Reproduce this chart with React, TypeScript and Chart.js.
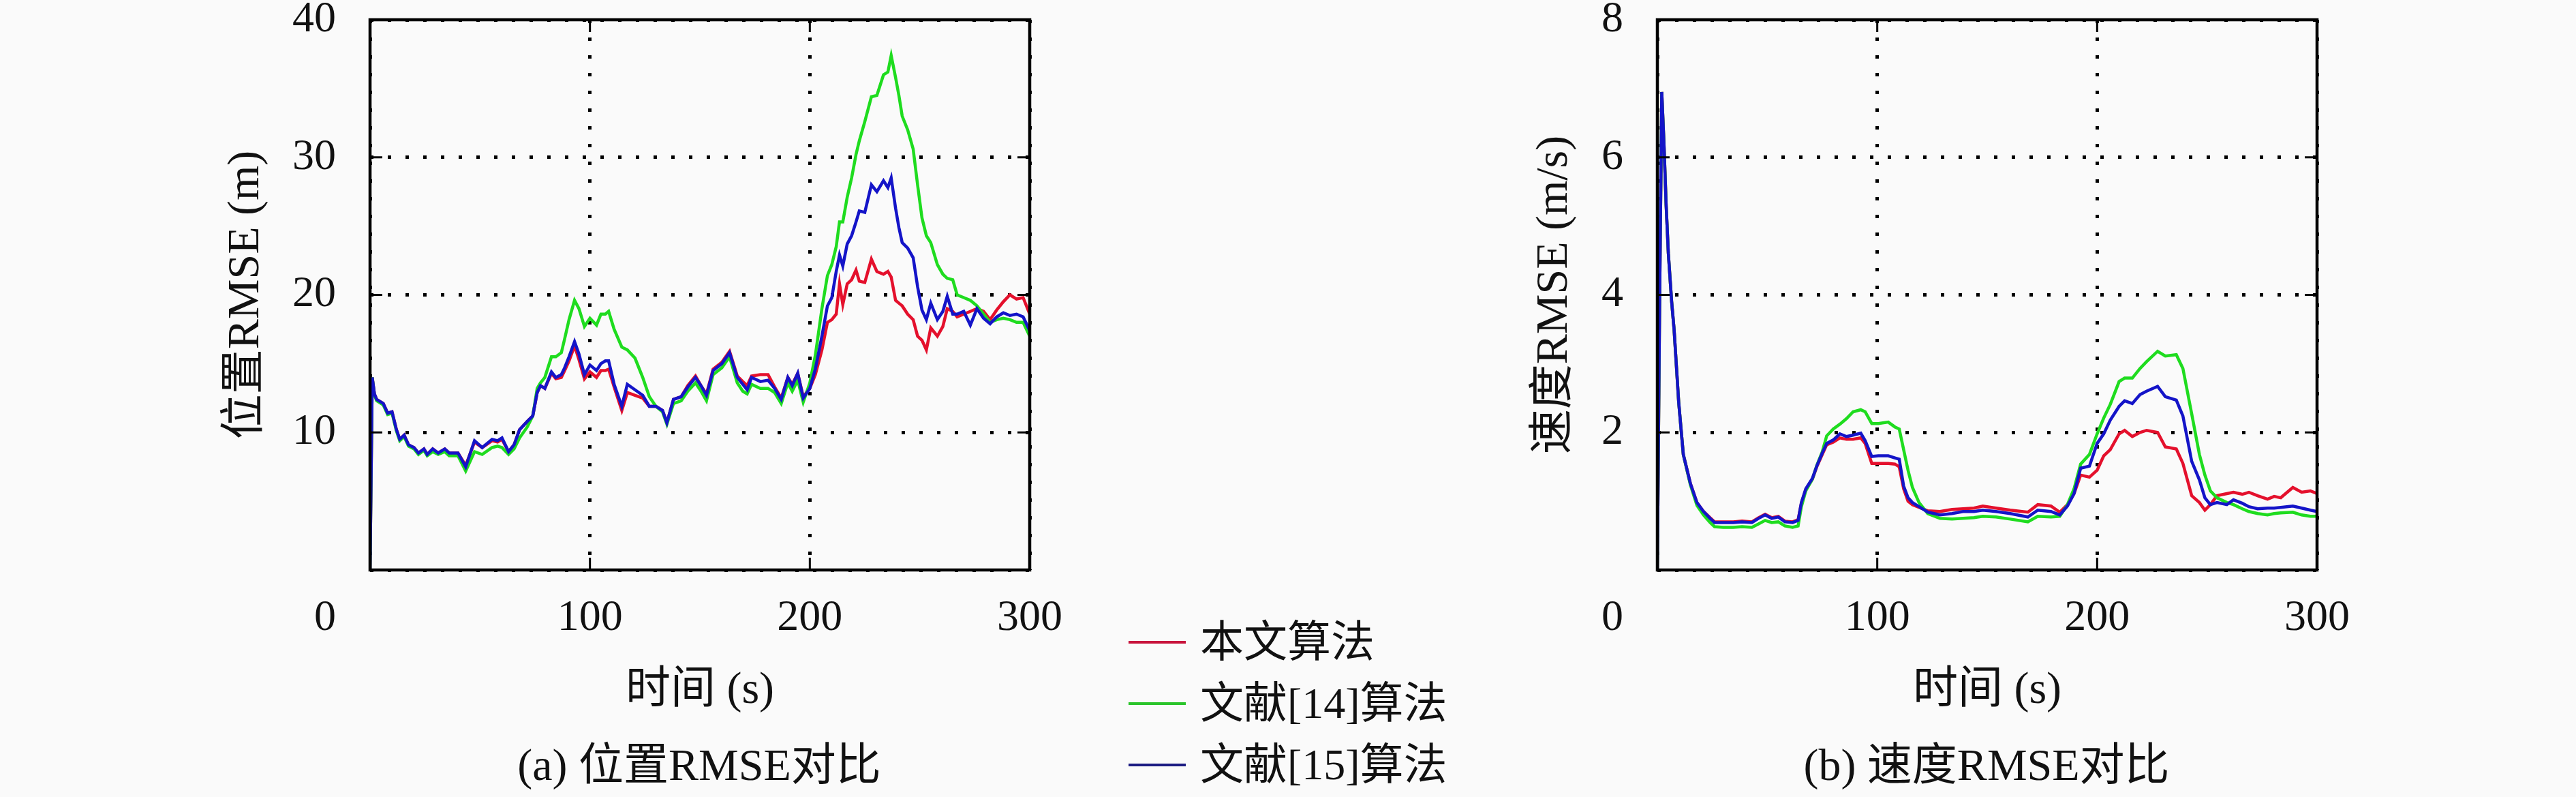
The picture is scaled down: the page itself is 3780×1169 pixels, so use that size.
import { useEffect, useRef } from 'react';
import { Chart, registerables, type ChartConfiguration, type Plugin } from 'chart.js';

Chart.register(...registerables);

// ---- data ----
const SERIES_NAMES = ['本文算法', '文献[14]算法', '文献[15]算法'];

// (a) position RMSE, metres
const TIME_POS = [
  0, 1, 2, 3, 6, 8, 10, 12, 13.5, 15.5,
  17.5, 20, 22, 24.5, 26, 28.5, 31, 34, 36, 40,
  43.5, 47.5, 51, 55.5, 58, 60, 63, 65.5, 68, 71.5,
  74, 76, 77.5, 79.5, 82.5, 84.5, 87, 88.5, 90.5, 93,
  95, 97.5, 100, 103, 105, 107, 108.5, 111, 114.5, 117,
  120.5, 124, 127, 130, 133, 135, 138, 141.5, 144.5, 148,
  150.5, 153, 156, 160, 163.5, 167, 169.5, 171.5, 173.5, 177.5,
  181, 184, 187, 190, 192, 194.5, 197, 200, 202.5, 205.5,
  208, 210, 212, 213.5, 215, 217, 219, 221, 222.5, 225,
  228, 230.5, 233.5, 235.5, 237, 239, 240.5, 242, 244.5, 247,
  249, 251, 253, 255, 258, 260.5, 262.5, 265, 267, 270,
  273, 276, 279, 282, 285, 288, 291, 294, 297, 300,
];
const POS_OURS = [
  0, 14.0, 12.8, 12.4, 12.1, 11.4, 11.5, 10.2, 9.5, 9.8,
  9.1, 8.9, 8.5, 8.8, 8.4, 8.8, 8.5, 8.8, 8.5, 8.5,
  7.6, 9.3, 8.9, 9.4, 9.3, 9.5, 8.6, 9.1, 10.2, 10.8,
  11.2, 12.9, 13.4, 13.2, 14.3, 13.9, 14.0, 14.5, 15.2, 16.3,
  15.3, 13.9, 14.4, 14.0, 14.5, 14.5, 14.6, 13.3, 11.6, 12.9,
  12.7, 12.5, 11.9, 11.9, 11.6, 10.7, 12.4, 12.6, 13.4, 14.1,
  13.4, 12.8, 14.6, 15.1, 15.9, 14.1, 13.7, 13.4, 14.1, 14.2,
  14.2, 13.3, 12.5, 14.0, 13.5, 14.3, 12.6, 13.2, 14.2, 16.0,
  18.0, 18.2, 18.6, 20.8, 19.3, 20.8, 21.1, 21.8, 21.0, 20.9,
  22.6, 21.7, 21.5, 21.7, 21.3, 19.6, 19.4, 19.2, 18.6, 18.2,
  17.0, 16.7, 16.0, 17.6, 17.0, 17.7, 19.0, 18.8, 18.4, 18.6,
  18.8, 19.0, 18.8, 18.2, 18.9, 19.5, 20.0, 19.7, 19.8, 18.6,
];
const POS_REF14 = [
  0, 14.0, 12.7, 12.3, 12.0, 11.3, 11.4, 10.1, 9.4, 9.7,
  9.0, 8.8, 8.4, 8.7, 8.3, 8.6, 8.4, 8.6, 8.3, 8.3,
  7.2, 8.6, 8.4, 8.9, 9.0, 8.9, 8.4, 8.8, 9.6, 10.4,
  11.2, 13.2, 13.6, 14.0, 15.5, 15.5, 15.8, 16.8, 18.2, 19.6,
  19.0, 17.7, 18.3, 17.8, 18.6, 18.6, 18.8, 17.5, 16.2, 16.0,
  15.4, 14.0, 12.6, 11.9, 11.5, 10.6, 12.1, 12.3, 13.0, 13.6,
  13.0, 12.3, 14.2, 14.7, 15.5, 13.6, 13.0, 12.8, 13.5, 13.2,
  13.2, 12.9, 12.1, 13.6, 13.0, 13.8, 12.2, 13.6, 15.6, 19.0,
  21.4, 22.2, 23.5, 25.3, 25.3, 27.1, 28.5, 30.2, 31.2, 32.6,
  34.4, 34.5, 36.0, 36.2, 37.4, 35.8, 34.5, 33.0, 32.0, 30.6,
  28.0, 25.6, 24.3, 23.8, 22.2, 21.5, 21.2, 21.1, 20.0, 19.8,
  19.6, 19.2, 18.6, 18.0, 18.2, 18.3, 18.2, 18.0, 18.0, 17.0,
];
const POS_REF15 = [
  0, 14.0, 12.8, 12.4, 12.1, 11.4, 11.5, 10.2, 9.5, 9.8,
  9.1, 8.9, 8.5, 8.8, 8.4, 8.8, 8.5, 8.8, 8.5, 8.5,
  7.5, 9.4, 8.9, 9.5, 9.4, 9.6, 8.6, 9.1, 10.2, 10.8,
  11.2, 12.9, 13.4, 13.2, 14.4, 14.0, 14.2, 14.7, 15.5, 16.6,
  15.7, 14.2, 14.9, 14.5, 15.0, 15.2, 15.2, 13.5, 11.9, 13.5,
  13.1, 12.7, 11.9, 11.9, 11.6, 10.7, 12.4, 12.6, 13.3, 14.0,
  13.4, 12.7, 14.5, 15.0, 15.8, 14.0, 13.5, 13.1, 14.0, 13.7,
  13.8, 13.2, 12.4, 14.0, 13.4, 14.3, 12.5, 13.2, 14.6, 17.0,
  19.2, 19.8, 21.7, 22.9, 22.1, 23.7, 24.3, 25.3, 26.1, 26.0,
  28.0, 27.5, 28.3, 27.8, 28.5, 26.3, 24.9, 23.8, 23.4, 22.7,
  20.6, 18.9, 18.2, 19.4, 18.2, 18.8, 19.9, 18.6, 18.6, 18.8,
  17.8, 19.0, 18.3, 17.9, 18.4, 18.7, 18.5, 18.6, 18.4, 17.4,
];

// (b) velocity RMSE, m/s
const TIME_VEL = [
  0, 1, 2, 3, 4, 5, 6.5, 7.6, 9.7, 11.8,
  15, 18, 21, 24, 26, 30, 34.5, 38.5, 43, 46,
  49, 52, 55, 58, 61.5, 64, 65.5, 67.5, 70.5, 72.5,
  75, 77, 80, 83, 86, 89, 92.5, 94.5, 97.5, 100.5,
  105, 108, 110, 112, 114, 116, 119, 123, 128.5, 134,
  139, 144, 148, 154, 160.5, 168.5, 173, 179, 183, 186.5,
  189.5, 192.5, 196.5, 200, 203, 206, 210, 212.5, 216, 219.5,
  222.5, 227.5, 231, 236, 239, 243, 246.5, 249, 251.5, 254.5,
  259, 262, 266, 269, 273, 277.5, 280.5, 283.5, 289, 293,
  297, 300,
];
const VEL_OURS = [
  0, 3.8, 6.95, 6.2, 5.3, 4.6, 3.9, 3.5, 2.44, 1.68,
  1.26, 0.98, 0.85, 0.76, 0.70, 0.70, 0.70, 0.71, 0.70, 0.76,
  0.81, 0.76, 0.78, 0.71, 0.70, 0.73, 0.97, 1.17, 1.32, 1.50,
  1.68, 1.82, 1.86, 1.92, 1.90, 1.90, 1.92, 1.84, 1.55, 1.55,
  1.55, 1.54, 1.50, 1.18, 1.00, 0.95, 0.91, 0.86, 0.85, 0.88,
  0.89, 0.90, 0.93, 0.90, 0.87, 0.84, 0.95, 0.93, 0.84, 0.95,
  1.11, 1.38, 1.35, 1.45, 1.66, 1.75, 1.98, 2.03, 1.94, 2.00,
  2.03, 2.00, 1.79, 1.76, 1.55, 1.08, 0.98, 0.87, 0.95, 1.08,
  1.11, 1.13, 1.10, 1.13, 1.08, 1.03, 1.07, 1.05, 1.20, 1.13,
  1.15, 1.11,
];
const VEL_REF14 = [
  0, 3.8, 6.95, 6.2, 5.3, 4.6, 3.9, 3.5, 2.44, 1.68,
  1.24, 0.94, 0.80, 0.69, 0.63, 0.62, 0.62, 0.63, 0.62, 0.67,
  0.72, 0.69, 0.70, 0.64, 0.62, 0.64, 0.92, 1.15, 1.32, 1.52,
  1.72, 1.95, 2.05, 2.12, 2.20, 2.30, 2.33, 2.30, 2.13, 2.13,
  2.15, 2.08, 2.05, 1.75, 1.45, 1.20, 0.98, 0.82, 0.75, 0.74,
  0.75, 0.76, 0.78, 0.77, 0.74, 0.70, 0.78, 0.77, 0.78, 0.95,
  1.18, 1.54, 1.68, 1.98, 2.21, 2.41, 2.74, 2.79, 2.79, 2.93,
  3.03, 3.18, 3.11, 3.13, 2.93, 2.27, 1.68, 1.38, 1.15, 1.05,
  0.98, 0.95, 0.89, 0.85, 0.82, 0.80, 0.82, 0.83, 0.84, 0.80,
  0.78, 0.78,
];
const VEL_REF15 = [
  0, 3.8, 6.95, 6.2, 5.3, 4.6, 3.9, 3.5, 2.44, 1.68,
  1.26, 0.98, 0.85, 0.75, 0.69, 0.69, 0.69, 0.70, 0.69, 0.75,
  0.80, 0.75, 0.77, 0.70, 0.69, 0.72, 0.98, 1.18, 1.33, 1.51,
  1.70, 1.84, 1.89, 1.98, 1.94, 1.96, 1.99, 1.88, 1.65, 1.66,
  1.66, 1.63, 1.61, 1.22, 1.05, 0.98, 0.92, 0.84, 0.80, 0.82,
  0.85, 0.85, 0.87, 0.85, 0.82, 0.77, 0.87, 0.85, 0.80, 0.93,
  1.11, 1.48, 1.51, 1.84, 1.98, 2.18, 2.38, 2.46, 2.42, 2.55,
  2.60, 2.67, 2.52, 2.47, 2.24, 1.58, 1.31, 1.05, 0.95, 0.98,
  0.95, 1.02, 0.97, 0.92, 0.89, 0.90, 0.90, 0.91, 0.93, 0.90,
  0.87, 0.85,
];

const LINE_COLORS = ['#e4102c', '#1fdc1f', '#1414c8'];
const LEGEND_COLORS = ['#c8143c', '#2ac42a', '#1c1c82'];

const SERIF = '"Liberation Serif", "Noto Sans CJK SC", serif';
const TICK_PX = 64;
const TITLE_PX = 66;
const TICK_PAD_X = 39;
const TICK_PAD_Y = 50;

// box, inward tick marks and the lone "0" under the y labels
const framePlugin: Plugin<'line'> = {
  id: 'gnuFrame',
  afterDatasetsDraw(chart) {
    const { ctx, chartArea: a, scales } = chart;
    const xs = scales.x;
    const ys = scales.y;
    const tl = 18;
    ctx.save();
    ctx.strokeStyle = '#000';
    ctx.lineWidth = 3;
    ctx.beginPath();
    xs.ticks.forEach((t) => {
      const px = xs.getPixelForValue(t.value);
      if (px <= a.left + 2 || px >= a.right - 2) return;
      ctx.moveTo(px, a.bottom);
      ctx.lineTo(px, a.bottom - tl);
      ctx.moveTo(px, a.top);
      ctx.lineTo(px, a.top + tl);
    });
    ys.ticks.forEach((t) => {
      const py = ys.getPixelForValue(t.value);
      if (py <= a.top + 2 || py >= a.bottom - 2) return;
      ctx.moveTo(a.left, py);
      ctx.lineTo(a.left + tl, py);
      ctx.moveTo(a.right, py);
      ctx.lineTo(a.right - tl, py);
    });
    ctx.stroke();

    ctx.lineWidth = 4.5;
    ctx.strokeRect(a.left, a.top, a.right - a.left, a.bottom - a.top);

    ctx.fillStyle = '#111';
    ctx.font = `${TICK_PX}px ${SERIF}`;
    ctx.textAlign = 'right';
    ctx.textBaseline = 'middle';
    ctx.fillText('0', ys.right - TICK_PAD_Y, xs.top + TICK_PAD_X + TICK_PX / 2);
    ctx.restore();
  },
};

interface RmsePanelProps {
  times: number[];
  series: number[][];
  yMax: number;
  yStep: number;
  yTitle: string;
  left: number;
  axisWidth: number;
  titlePad: number;
  rightPad: number;
}

function RmsePanel({ times, series, yMax, yStep, yTitle, left, axisWidth, titlePad, rightPad }: RmsePanelProps) {
  const canvasRef = useRef<HTMLCanvasElement>(null);

  useEffect(() => {
    if (!canvasRef.current) return;
    const tickFont = { family: SERIF, size: TICK_PX, lineHeight: 1 };
    const titleFont = { family: SERIF, size: TITLE_PX, lineHeight: 1 };

    const config: ChartConfiguration<'line'> = {
      type: 'line',
      data: {
        datasets: series.map((vals, i) => ({
          label: SERIES_NAMES[i],
          data: times.map((t, k) => ({ x: t, y: vals[k] })),
          borderColor: LINE_COLORS[i],
          backgroundColor: LINE_COLORS[i],
          borderWidth: 4.5,
          pointRadius: 0,
          tension: 0,
          fill: false,
          order: 2 - i,
        })),
      },
      options: {
        responsive: false,
        animation: false,
        events: [],
        layout: { padding: { top: 29, right: rightPad, bottom: 0, left: 0 } },
        plugins: {
          legend: { display: false },
          tooltip: { enabled: false },
        },
        scales: {
          x: {
            type: 'linear',
            min: 0,
            max: 300,
            ticks: {
              stepSize: 100,
              padding: TICK_PAD_X,
              color: '#111',
              font: tickFont,
              maxRotation: 0,
              autoSkip: false,
              callback: (v) => (v === 0 ? '' : String(v)),
            },
            grid: { color: '#000', lineWidth: 5, drawTicks: false },
            border: { display: false, dash: [5, 21] },
            title: {
              display: true,
              text: '时间 (s)',
              color: '#111',
              font: titleFont,
              padding: { top: 0, bottom: 13 },
            },
            afterFit: (s) => {
              s.height = 224;
              s.paddingLeft = 0;
              s.paddingRight = 0;
            },
          },
          y: {
            type: 'linear',
            min: 0,
            max: yMax,
            ticks: {
              stepSize: yStep,
              padding: TICK_PAD_Y,
              color: '#111',
              font: tickFont,
              callback: (v) => (v === 0 ? '' : String(v)),
            },
            grid: { color: '#000', lineWidth: 5, drawTicks: false },
            border: { display: false, dash: [5, 21] },
            title: {
              display: true,
              text: yTitle,
              color: '#111',
              font: titleFont,
              padding: { top: titlePad, bottom: 0 },
            },
            afterFit: (s) => {
              s.width = axisWidth;
              s.paddingTop = 0;
              s.paddingBottom = 0;
            },
          },
        },
      },
      plugins: [framePlugin],
    };

    const chart = new Chart(canvasRef.current, config);
    return () => {
      chart.destroy();
    };
  }, [times, series, yMax, yStep, yTitle, axisWidth, titlePad, rightPad]);

  return (
    <canvas
      ref={canvasRef}
      width={1300}
      height={1060}
      style={{ position: 'absolute', left, top: 0, width: 1300, height: 1060 }}
    />
  );
}

const POS_SERIES = [POS_OURS, POS_REF14, POS_REF15];
const VEL_SERIES = [VEL_OURS, VEL_REF14, VEL_REF15];

function Caption({ x, text }: { x: number; text: string }) {
  return (
    <div
      style={{
        position: 'absolute',
        left: x,
        top: 1122,
        transform: 'translate(-50%, -50%)',
        whiteSpace: 'nowrap',
        fontSize: TITLE_PX,
        lineHeight: 1,
      }}
    >
      {text}
    </div>
  );
}

function Legend() {
  const rows = [942, 1032, 1122];
  return (
    <>
      {SERIES_NAMES.map((name, i) => (
        <div
          key={name}
          style={{
            position: 'absolute',
            left: 1656,
            top: rows[i] - 40,
            height: 80,
            display: 'flex',
            alignItems: 'center',
            whiteSpace: 'nowrap',
          }}
        >
          <div style={{ width: 84, height: 4, background: LEGEND_COLORS[i], marginRight: 21 }} />
          <span style={{ fontSize: TICK_PX, lineHeight: 1 }}>{name}</span>
        </div>
      ))}
    </>
  );
}

export default function App() {
  return (
    <div
      style={{
        position: 'absolute',
        left: 0,
        top: 0,
        width: 3780,
        height: 1169,
        overflow: 'hidden',
        background: '#fafafa',
        color: '#111',
        fontFamily: SERIF,
      }}
    >
      <RmsePanel
        times={TIME_POS}
        series={POS_SERIES}
        yMax={40}
        yStep={10}
        yTitle="位置RMSE (m)"
        left={300}
        axisWidth={243}
        titlePad={29}
        rightPad={89}
      />
      <RmsePanel
        times={TIME_VEL}
        series={VEL_SERIES}
        yMax={8}
        yStep={2}
        yTitle="速度RMSE (m/s)"
        left={2200}
        axisWidth={232}
        titlePad={49}
        rightPad={100}
      />
      <Caption x={1026} text="(a) 位置RMSE对比" />
      <Caption x={2915} text="(b) 速度RMSE对比" />
      <Legend />
    </div>
  );
}
